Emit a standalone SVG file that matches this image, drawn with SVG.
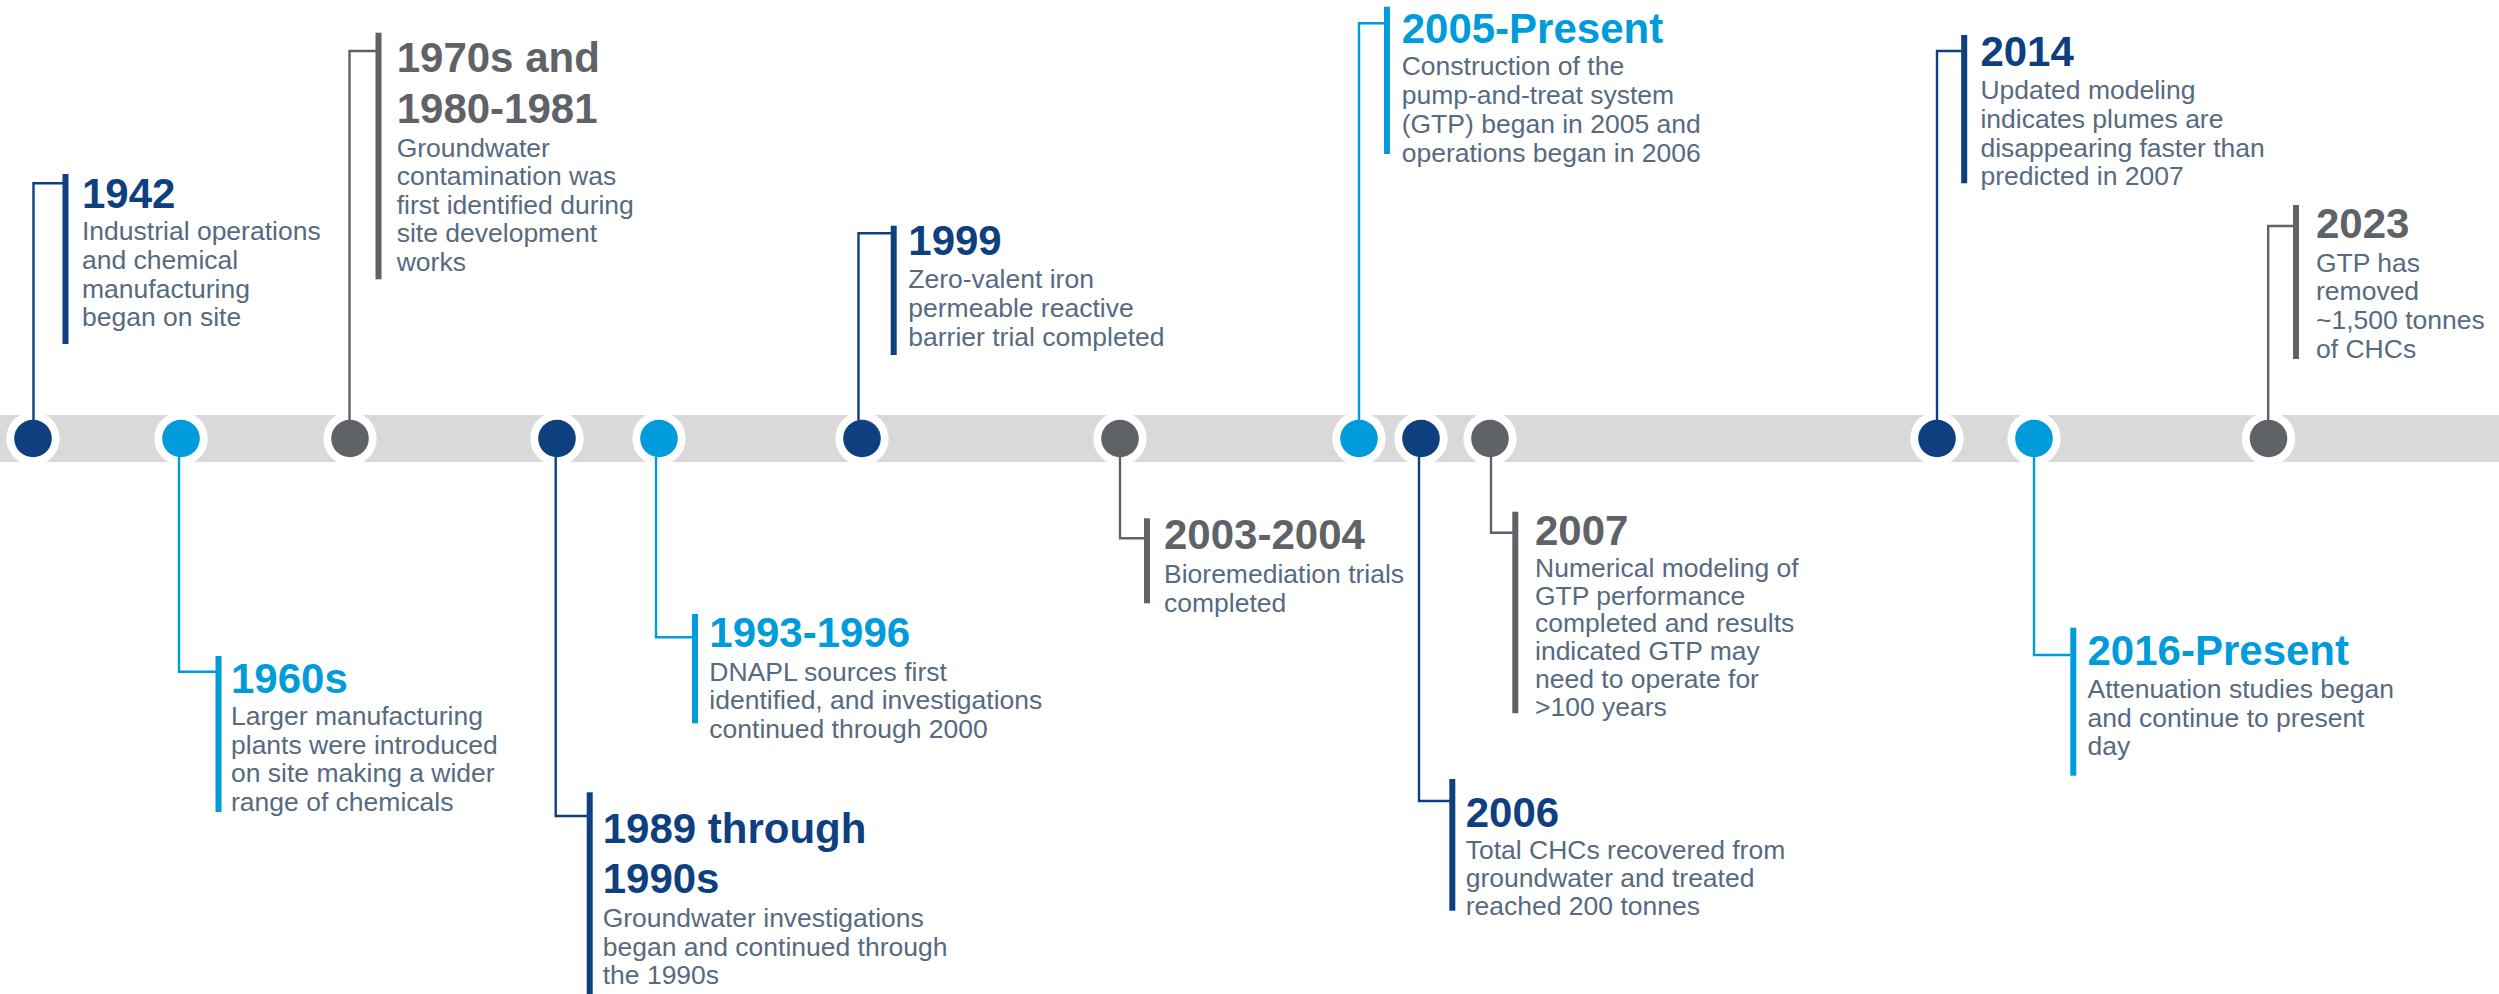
<svg xmlns="http://www.w3.org/2000/svg" width="2499" height="994" viewBox="0 0 2499 994">
  <style>
    .band { fill: #d9d9d9; }
    .ring { fill: #ffffff; }
    .title { font-family: "Liberation Sans", Arial, sans-serif; font-weight: bold; font-size: 42px; }
    .body { font-family: "Liberation Sans", Arial, sans-serif; font-size: 26.5px; fill: #566a80; }
    .dark { fill: #0e3f7e; }
    .light { fill: #009bdb; }
    .gray { fill: #5f6368; }
    .c-dark { stroke: #0e3f7e; }
    .c-light { stroke: #009bdb; }
    .c-gray { stroke: #5f6368; }
    .conn path { fill: none; stroke-width: 2.4; }
  </style>

  <rect class="band" x="0" y="415" width="2499" height="47"/>

  <!-- 1942 -->
  <g id="n1942">
    <circle class="ring" cx="33" cy="438.5" r="26.7"/>
    <circle class="dark" cx="33" cy="438.5" r="18.8"/>
    <rect class="dark" x="62.5" y="174" width="6" height="170"/>
    <text class="title dark" x="82" y="208">1942</text>
    <text class="body" x="82"><tspan x="82" y="240">Industrial operations</tspan><tspan x="82" y="269">and chemical</tspan><tspan x="82" y="297.7">manufacturing</tspan><tspan x="82" y="326.3">began on site</tspan></text>
  </g>

  <!-- 1960s -->
  <g id="n1960s">
    <circle class="ring" cx="181" cy="438.5" r="26.7"/>
    <circle class="light" cx="181" cy="438.5" r="18.8"/>
    <rect class="light" x="215.5" y="656" width="6" height="156"/>
    <text class="title light" x="231" y="692.7">1960s</text>
    <text class="body"><tspan x="231" y="725">Larger manufacturing</tspan><tspan x="231" y="753.5">plants were introduced</tspan><tspan x="231" y="782.2">on site making a wider</tspan><tspan x="231" y="810.5">range of chemicals</tspan></text>
  </g>

  <!-- 1970s and 1980-1981 -->
  <g id="n1970s">
    <circle class="ring" cx="350" cy="438.5" r="26.7"/>
    <circle class="gray" cx="350" cy="438.5" r="18.8"/>
    <rect class="gray" x="375.5" y="32.7" width="6" height="246.6"/>
    <text class="title gray"><tspan x="396.7" y="71.7">1970s and</tspan><tspan x="396.7" y="123.3">1980-1981</tspan></text>
    <text class="body"><tspan x="396.7" y="156.7">Groundwater</tspan><tspan x="396.7" y="185.2">contamination was</tspan><tspan x="396.7" y="213.7">first identified during</tspan><tspan x="396.7" y="242.3">site development</tspan><tspan x="396.7" y="271">works</tspan></text>
  </g>

  <!-- 1989 through 1990s -->
  <g id="n1989">
    <circle class="ring" cx="557" cy="438.5" r="26.7"/>
    <circle class="dark" cx="557" cy="438.5" r="18.8"/>
    <rect class="dark" x="586.7" y="792.3" width="6" height="202"/>
    <text class="title dark"><tspan x="602.7" y="842.7">1989 through</tspan><tspan x="602.7" y="893.3">1990s</tspan></text>
    <text class="body"><tspan x="602.7" y="926.7">Groundwater investigations</tspan><tspan x="602.7" y="955.5">began and continued through</tspan><tspan x="602.7" y="984">the 1990s</tspan></text>
  </g>

  <!-- 1993-1996 -->
  <g id="n1993">
    <circle class="ring" cx="659" cy="438.5" r="26.7"/>
    <circle class="light" cx="659" cy="438.5" r="18.8"/>
    <rect class="light" x="692" y="614" width="6" height="109.3"/>
    <text class="title light" x="709.3" y="647.3">1993-1996</text>
    <text class="body"><tspan x="709.3" y="680.7">DNAPL sources first</tspan><tspan x="709.3" y="709.4">identified, and investigations</tspan><tspan x="709.3" y="738.2">continued through 2000</tspan></text>
  </g>

  <!-- 1999 -->
  <g id="n1999">
    <circle class="ring" cx="862" cy="438.5" r="26.7"/>
    <circle class="dark" cx="862" cy="438.5" r="18.8"/>
    <rect class="dark" x="890.7" y="225.7" width="6" height="129.3"/>
    <text class="title dark" x="908.3" y="255">1999</text>
    <text class="body"><tspan x="908.3" y="288.3">Zero-valent iron</tspan><tspan x="908.3" y="317.2">permeable reactive</tspan><tspan x="908.3" y="346">barrier trial completed</tspan></text>
  </g>

  <!-- 2003-2004 -->
  <g id="n2003">
    <circle class="ring" cx="1120" cy="438.5" r="26.7"/>
    <circle class="gray" cx="1120" cy="438.5" r="18.8"/>
    <rect class="gray" x="1144" y="518.3" width="6" height="85"/>
    <text class="title gray" x="1164" y="549.3">2003-2004</text>
    <text class="body"><tspan x="1164" y="583.3">Bioremediation trials</tspan><tspan x="1164" y="611.9">completed</tspan></text>
  </g>

  <!-- 2005-Present -->
  <g id="n2005">
    <circle class="ring" cx="1359" cy="438.5" r="26.7"/>
    <circle class="light" cx="1359" cy="438.5" r="18.8"/>
    <rect class="light" x="1384" y="6.7" width="6" height="147.3"/>
    <text class="title light" x="1401.7" y="43.3">2005-Present</text>
    <text class="body"><tspan x="1401.7" y="75">Construction of the</tspan><tspan x="1401.7" y="104">pump-and-treat system</tspan><tspan x="1401.7" y="132.8">(GTP) began in 2005 and</tspan><tspan x="1401.7" y="161.6">operations began in 2006</tspan></text>
  </g>

  <!-- 2006 -->
  <g id="n2006">
    <circle class="ring" cx="1421" cy="438.5" r="26.7"/>
    <circle class="dark" cx="1421" cy="438.5" r="18.8"/>
    <rect class="dark" x="1449.3" y="779" width="6" height="131.7"/>
    <text class="title dark" x="1465.7" y="826.7">2006</text>
    <text class="body"><tspan x="1465.7" y="859.3">Total CHCs recovered from</tspan><tspan x="1465.7" y="887.3">groundwater and treated</tspan><tspan x="1465.7" y="915.3">reached 200 tonnes</tspan></text>
  </g>

  <!-- 2007 -->
  <g id="n2007">
    <circle class="ring" cx="1490" cy="438.5" r="26.7"/>
    <circle class="gray" cx="1490" cy="438.5" r="18.8"/>
    <rect class="gray" x="1512.3" y="511.7" width="6" height="201.6"/>
    <text class="title gray" x="1535" y="545">2007</text>
    <text class="body"><tspan x="1535" y="576.7">Numerical modeling of</tspan><tspan x="1535" y="604.5">GTP performance</tspan><tspan x="1535" y="632.3">completed and results</tspan><tspan x="1535" y="660">indicated GTP may</tspan><tspan x="1535" y="687.8">need to operate for</tspan><tspan x="1535" y="715.5">&gt;100 years</tspan></text>
  </g>

  <!-- 2014 -->
  <g id="n2014">
    <circle class="ring" cx="1937" cy="438.5" r="26.7"/>
    <circle class="dark" cx="1937" cy="438.5" r="18.8"/>
    <rect class="dark" x="1961.2" y="35" width="6" height="148.3"/>
    <text class="title dark" x="1980.4" y="66">2014</text>
    <text class="body"><tspan x="1980.4" y="99.3">Updated modeling</tspan><tspan x="1980.4" y="127.9">indicates plumes are</tspan><tspan x="1980.4" y="156.5">disappearing faster than</tspan><tspan x="1980.4" y="184.5">predicted in 2007</tspan></text>
  </g>

  <!-- 2016-Present -->
  <g id="n2016">
    <circle class="ring" cx="2034" cy="438.5" r="26.7"/>
    <circle class="light" cx="2034" cy="438.5" r="18.8"/>
    <rect class="light" x="2070.3" y="627.7" width="6" height="148"/>
    <text class="title light" x="2087.5" y="665">2016-Present</text>
    <text class="body"><tspan x="2087.5" y="697.7">Attenuation studies began</tspan><tspan x="2087.5" y="726.5">and continue to present</tspan><tspan x="2087.5" y="755.2">day</tspan></text>
  </g>

  <!-- 2023 -->
  <g id="n2023">
    <circle class="ring" cx="2268.5" cy="438.5" r="26.7"/>
    <circle class="gray" cx="2268.5" cy="438.5" r="18.8"/>
    <rect class="gray" x="2293" y="205" width="6" height="154"/>
    <text class="title gray" x="2316" y="238.3">2023</text>
    <text class="body"><tspan x="2316" y="271.7">GTP has</tspan><tspan x="2316" y="300.3">removed</tspan><tspan x="2316" y="329">~1,500 tonnes</tspan><tspan x="2316" y="357.6">of CHCs</tspan></text>
  </g>

  <!-- elbow connectors from each dot to its label bar -->
  <g id="connectors" class="conn">
    <path class="c-dark" d="M33.5 420 V183.3 H63"/>
    <path class="c-light" d="M179 457 V671.7 H216"/>
    <path class="c-gray" d="M349.5 420 V51 H376"/>
    <path class="c-dark" d="M555.7 457 V816 H587"/>
    <path class="c-light" d="M656 457 V637.3 H692.5"/>
    <path class="c-dark" d="M858.5 420 V233.3 H891"/>
    <path class="c-gray" d="M1120 457 V538.3 H1144.5"/>
    <path class="c-light" d="M1359 420 V23.3 H1384.5"/>
    <path class="c-dark" d="M1419 457 V801 H1450"/>
    <path class="c-gray" d="M1491 457 V532.7 H1513"/>
    <path class="c-dark" d="M1937 420 V51 H1961.5"/>
    <path class="c-light" d="M2034 457 V655 H2070.5"/>
    <path class="c-gray" d="M2268.2 420 V226 H2293.5"/>
  </g>
</svg>
